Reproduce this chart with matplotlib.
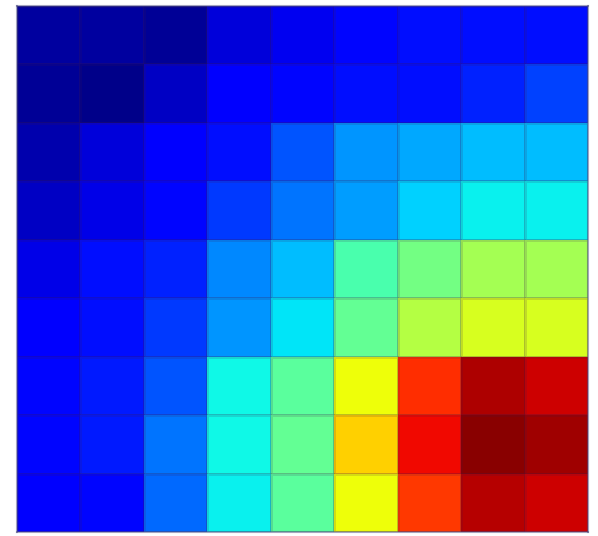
import matplotlib
matplotlib.use("Agg")
import matplotlib.pyplot as plt
import numpy as np

# 9x9 grid of normalised values, top row first
row0 = [0.03, 0.03, 0.02, 0.08, 0.10, 0.13, 0.14, 0.14, 0.14]
row1 = [0.02, 0.01, 0.06, 0.12, 0.13, 0.14, 0.14, 0.16, 0.19]
row2 = [0.04, 0.08, 0.12, 0.14, 0.21, 0.27, 0.29, 0.31, 0.31]
row3 = [0.06, 0.09, 0.13, 0.18, 0.24, 0.28, 0.33, 0.36, 0.36]
row4 = [0.09, 0.14, 0.16, 0.26, 0.31, 0.44, 0.49, 0.55, 0.55]
row5 = [0.11, 0.14, 0.18, 0.27, 0.35, 0.47, 0.57, 0.61, 0.61]
row6 = [0.13, 0.15, 0.21, 0.37, 0.46, 0.64, 0.86, 0.96, 0.93]
row7 = [0.13, 0.15, 0.24, 0.37, 0.47, 0.69, 0.90, 0.99, 0.97]
row8 = [0.12, 0.13, 0.23, 0.36, 0.46, 0.64, 0.85, 0.95, 0.93]

grid = np.array([row0, row1, row2, row3, row4, row5, row6, row7, row8])

fig = plt.figure(figsize=(5.98, 5.36), dpi=100)
ax = fig.add_axes([17/598, 4/536, 571/598, 526/536])

ax.pcolormesh(grid, cmap="jet", vmin=0, vmax=1,
              edgecolors=(0.25, 0.1, 0.3, 0.15), linewidth=1.0)
ax.set_xlim(0, 9)
ax.set_ylim(9, 0)
ax.set_xticks([])
ax.set_yticks([])
for s in ax.spines.values():
    s.set_color((0.3, 0.3, 0.5, 0.5))
    s.set_linewidth(1.5)

fig.savefig("out.png", dpi=100)
